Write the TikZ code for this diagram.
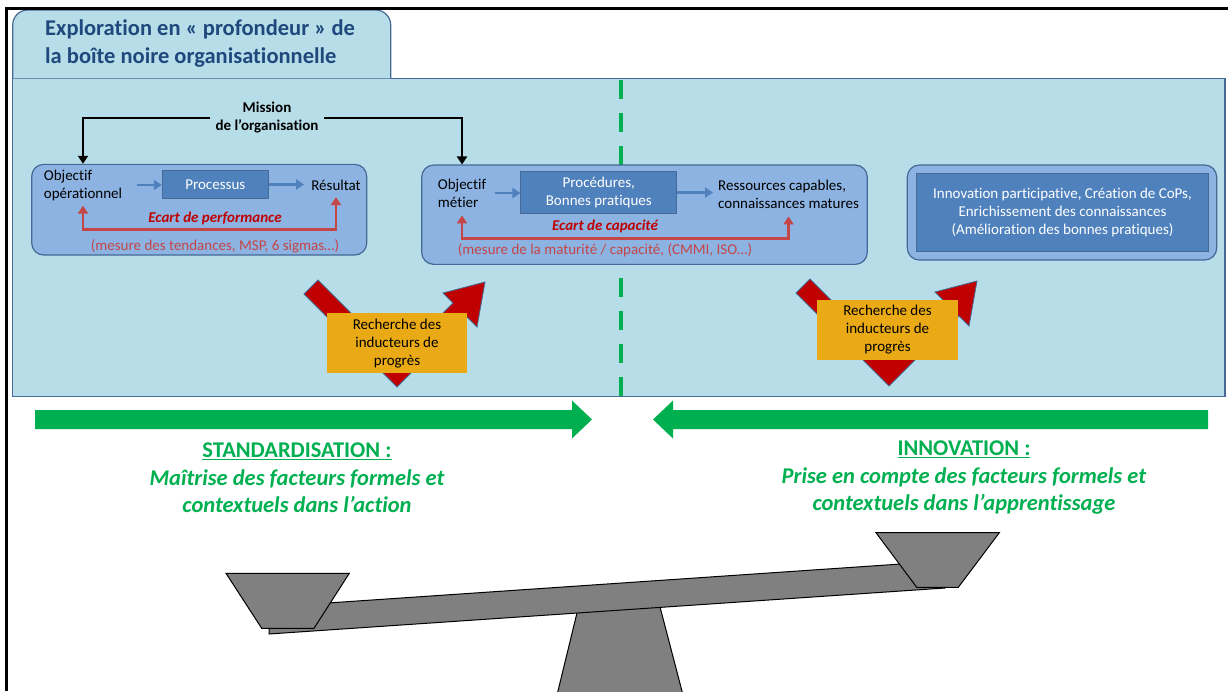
\documentclass[tikz,border=0pt]{standalone}
\usepackage{fontspec}
\setmainfont[Ligatures={NoCommon}]{Carlito}
\usepackage{tikz}
\usetikzlibrary{arrows.meta, positioning, calc}
\newcommand{\taillebase}{\fontsize{15}{18}\selectfont}
\newcommand{\tailletitre}{\fontsize{22.5}{27.5}\selectfont}
\definecolor{bleuclair}{RGB}{183,221,232}
\definecolor{bleucadre}{RGB}{70,105,150}
\definecolor{bleuboite}{RGB}{141,179,226}
\definecolor{bleufonce}{RGB}{79,129,189}
\definecolor{bleutitre}{RGB}{31,73,125}
\definecolor{rougeecart}{RGB}{192,0,0}
\definecolor{rougemesure}{RGB}{196,70,70}
\definecolor{vertstd}{RGB}{0,176,80}
\definecolor{jaunerech}{RGB}{234,170,22}
\definecolor{grisbalance}{RGB}{128,128,128}
\tikzset{>={Triangle[length=8pt,width=10pt]},
	panneau/.style={draw=bleucadre, fill=bleuclair, line width=1.2pt},
	boite/.style={draw=bleucadre, fill=bleuboite, rounded corners=12pt, line width=1.2pt},
	processus/.style={draw=bleucadre, fill=bleufonce, text=white, font=\taillebase, inner sep=0pt, line width=1pt},
	texte/.style={font=\taillebase, align=left, inner sep=1pt},
	fleche/.style={->, draw=bleufonce, line width=2.5pt},
	ecart/.style={<->, draw=rougemesure, line width=2.5pt},
	mission/.style={->, draw=black, line width=2.5pt},
	recherche/.style={fill=jaunerech, minimum width=140.5pt, minimum height=60pt, font=\taillebase, align=center},
	flecherouge/.style={fill=rougeecart, draw=bleucadre, line width=0.8pt, line join=miter},
	titrevert/.style={text=vertstd, font=\tailletitre\bfseries, align=center},
	balance/.style={fill=grisbalance, draw=black, line width=1pt}}

\begin{document}
\begin{tikzpicture}[x=1pt, y=-1pt]
	\useasboundingbox (0,0) rectangle (1228,691);

	\draw [panneau] (12.7,78.3) rectangle (1225,396.7);
	\filldraw [panneau, rounded corners=15pt] (12.7,78.3) -- (12.7,10) -- (390.7,10) -- (390.7,78.3);
	\node [font=\tailletitre\bfseries, text=bleutitre, align=left, anchor=west, inner sep=0pt] (titre) at (45,43.5) {Exploration en «~profondeur~» de\\la boîte noire organisationnelle};

	\draw [draw=vertstd, line width=4pt, dash pattern=on 19pt off 14pt] (621,396) -- (621,79);

	\node [texte, font=\taillebase\bfseries, align=center, inner sep=5pt] (mission) at (267,118) {Mission\\de l’organisation};

	\node [boite, minimum width=335pt, minimum height=90.7pt] (boiteperf) at (199.2,209.7) {};
	\node [texte] (objop) at (83,185) {Objectif\\opérationnel};
	\node [processus, minimum width=106pt, minimum height=27.6pt] (proc) at (215.3,184.5) {Processus};
	\node [texte] (result) at (336,185.7) {Résultat};
	\draw [fleche, shorten <=14pt] (objop.east) -- (objop.east -| proc.west);
	\draw [fleche, shorten >=6pt] (proc.east) -- (proc.east -| result.west);
	\coordinate (ecartperf) at (215,229.3);
	\draw [ecart, shorten <=4pt, shorten >=5pt] (objop.south) |- (ecartperf) -| (result.south);
	\node [font=\taillebase\bfseries\itshape, text=rougeecart] (ecartp) at (215,218) {Ecart de performance};
	\node [font=\taillebase, text=rougemesure] (mesurep) at (215,246.7) {(mesure des tendances, MSP, 6 sigmas…)};

	\node [boite, minimum width=445.6pt, minimum height=99.3pt] (boitecap) at (644.5,214.7) {};
	\node [texte] (objmet) at (462,193) {Objectif\\métier};
	\node [processus, minimum width=155.7pt, minimum height=41.6pt, align=center] (proc2) at (598.8,192.5) {Procédures,\\Bonnes pratiques};
	\node [texte, anchor=west] (ress) at (717,194) {Ressources capables,\\connaissances matures};
	\draw [fleche, shorten <=8pt] (objmet.east) -- (objmet.east -| proc2.west);
	\draw [fleche, shorten >=4pt] (proc2.east) -- (proc2.east -| ress.west);
	\coordinate (ecartcap) at (605,238.3);
	\draw [ecart, shorten <=7pt, shorten >=7pt] (objmet.south) |- (ecartcap) -| (ress.south);
	\node [font=\taillebase\bfseries\itshape, text=rougeecart] (ecartc) at (605,226.7) {Ecart de capacité};
	\node [font=\taillebase, text=rougemesure] (mesurec) at (605,250) {(mesure de la maturité / capacité, (CMMI, ISO…)};

	\draw [mission] (mission.west) -| (objop.north |- boiteperf.north);
	\draw [mission] (mission.east) -| (objmet.north |- boitecap.north);

	\node [boite, minimum width=309.4pt, minimum height=95pt] (boiteinno) at (1062,212.5) {};
	\node [processus, minimum width=291.6pt, minimum height=78.4pt, align=center] (inno) at (1062.5,212.5) {Innovation participative, Création de CoPs,\\Enrichissement des connaissances\\(Amélioration des bonnes pratiques)};

	\foreach \dx/\dy in {0/0, 492/-1}
		\filldraw [flecherouge, shift={(\dx,\dy)}] (318,280) -- (397,359) -- (453,303) -- (443,293) -- (485,282) -- (477,327) -- (467,317) -- (397,387) -- (304,294) -- cycle;
	\node [recherche] (rechgauche) at (397,343.3) {Recherche des\\inducteurs de\\progrès};
	\node [recherche] (rechdroite) at (887.5,329.7) {Recherche des\\inducteurs de\\progrès};

	\fill [vertstd] (35,410) -- (572,410) -- (572,400.5) -- (592,419.5) -- (572,438.5) -- (572,429) -- (35,429) -- cycle;
	\fill [vertstd] (1208,410) -- (673,410) -- (673,400.5) -- (653,419.5) -- (673,438.5) -- (673,429) -- (1208,429) -- cycle;
	\node [titrevert] (standard) at (297,478) {\underline{STANDARDISATION :}\\\textit{Maîtrise des facteurs formels et}\\\textit{contextuels dans l’action}};
	\node [titrevert] (innov) at (964,478) {\underline{INNOVATION :}\\\textit{Prise en compte des facteurs formels et}\\\textit{contextuels dans l’apprentissage}};

	\draw [balance] (579.4,603) -- (657.4,597) -- (683,695) -- (557,695) -- cycle;
	\draw [balance] (269,634) -- (945,588) -- (945,561) -- (269,607) -- cycle;
	\draw [balance] (226,573.3) -- (349.3,573.3) -- (314,628.3) -- (261.7,628.3) -- cycle;
	\draw [balance] (876,532.7) -- (999.3,532.7) -- (958.3,587.3) -- (916.7,587.3) -- cycle;

	\draw [line width=3pt] (6.7,691) -- (6.7,8.3) -- (1228,8.3);
\end{tikzpicture}
\end{document}
